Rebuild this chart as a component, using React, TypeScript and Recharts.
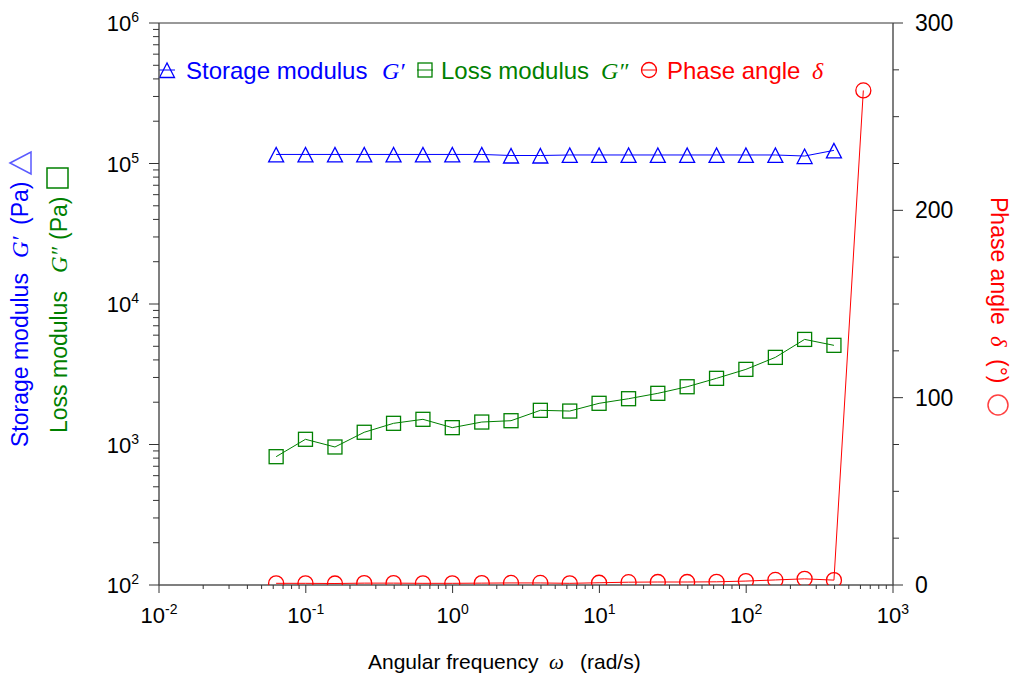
import React from 'react';
import { ComposedChart, Line, XAxis, YAxis, ReferenceLine, Customized } from 'recharts';

// Angular frequency (rad/s)
const frequency = [0.0628, 0.0995, 0.158, 0.25, 0.396, 0.628, 0.995, 1.58, 2.5, 3.96, 6.28, 9.95, 15.8, 25, 39.6, 62.8, 99.5, 158, 250, 396, 628];
// Storage modulus G' (Pa)
const storageModulus = [116000, 116000, 116000, 116000, 116000, 116000, 116000, 116000, 114000, 114000, 115000, 115000, 115000, 115000, 115000, 115000, 115000, 115000, 113000, 124000];
// Loss modulus G'' (Pa)
const lossModulus = [819, 1089, 960, 1222, 1415, 1511, 1318, 1445, 1477, 1751, 1730, 1964, 2118, 2313, 2577, 2958, 3426, 4170, 5598, 5079];
// Phase angle δ (°)
const phaseAngle = [0.9, 0.9, 0.8, 1.0, 1.0, 0.9, 0.9, 1.0, 1.1, 1.1, 0.9, 1.2, 1.5, 1.6, 1.6, 1.7, 2.1, 2.7, 3.3, 2.6, 264];

const xMajorTicks = [0.01, 0.1, 1, 10, 100, 1000];
const yLeftMajorTicks = [100, 1000, 10000, 100000, 1000000];
const yRightTicks = [0, 25, 50, 75, 100, 125, 150, 175, 200, 225, 250, 275, 300];
const yRightLabels = [0, 100, 200, 300];

const withMinor = (majors: number[]) => {
  const out: number[] = [];
  majors.forEach((d, i) => {
    out.push(d);
    if (i < majors.length - 1) for (let m = 2; m <= 9; m++) out.push(d * m);
  });
  return out;
};
const xTicks = withMinor(xMajorTicks);
const yLeftTicks = withMinor(yLeftMajorTicks);

const storageData = storageModulus.map((v, i) => ({ w: frequency[i], g1: v }));
const lossData = lossModulus.map((v, i) => ({ w: frequency[i], g2: v }));
const phaseData = phaseAngle.map((v, i) => ({ w: frequency[i], d: v }));

const SANS = 'Arial, "Liberation Sans", sans-serif';
const SERIF = '"Times New Roman", "Liberation Serif", serif';
const BLUE = '#0000ff';
const GREEN = '#008000';
const RED = '#ff0000';
const AXIS = '#555555';
const TICK = '#333333';

const isDecade = (v: number) => Math.abs(Math.log10(v) - Math.round(Math.log10(v))) < 1e-9;

const XTick = (props: any) => {
  const { x, y, payload } = props;
  const v = payload.value;
  const major = isDecade(v);
  return (
    <g>
      <line x1={x} y1={y} x2={x} y2={y + (major ? 8 : 4)} stroke={TICK} strokeWidth={1} />
      {major && (
        <text x={x} y={y + 38} textAnchor="middle" fontFamily={SANS} fontSize={22} fill="#000">
          10<tspan dy={-9} fontSize={14}>{String(Math.round(Math.log10(v)))}</tspan>
        </text>
      )}
    </g>
  );
};

const YLeftTick = (props: any) => {
  const { x, y, payload } = props;
  const v = payload.value;
  const major = isDecade(v);
  return (
    <g>
      <line x1={x} y1={y} x2={x - (major ? 10 : 6)} y2={y} stroke={TICK} strokeWidth={1} />
      {major && (
        <text x={x - 20} y={y + 8} textAnchor="end" fontFamily={SANS} fontSize={22} fill="#000">
          10<tspan dy={-9} fontSize={14}>{String(Math.round(Math.log10(v)))}</tspan>
        </text>
      )}
    </g>
  );
};

const YRightTick = (props: any) => {
  const { x, y, payload } = props;
  const v = payload.value;
  const major = yRightLabels.includes(v);
  return (
    <g>
      <line x1={x} y1={y} x2={x + (major ? 10 : 6)} y2={y} stroke={TICK} strokeWidth={1} />
      {major && (
        <text x={x + 22} y={y + 8} textAnchor="start" fontFamily={SANS} fontSize={23} fill="#000">
          {v}
        </text>
      )}
    </g>
  );
};

const triPoints = (cx: number, cy: number) => `${cx},${cy - 7} ${cx - 7.5},${cy + 7.5} ${cx + 7.5},${cy + 7.5}`;

const TriangleDot = (props: any) => {
  const { cx, cy, index } = props;
  if (cx == null || cy == null) return <g key={`t${index}`} />;
  return <polygon key={`t${index}`} points={triPoints(cx, cy)} fill="none" stroke={BLUE} strokeWidth={1.3} />;
};
const SquareDot = (props: any) => {
  const { cx, cy, index } = props;
  if (cx == null || cy == null) return <g key={`s${index}`} />;
  return <rect key={`s${index}`} x={cx - 7} y={cy - 7} width={14} height={14} fill="none" stroke={GREEN} strokeWidth={1.3} />;
};
const CircleDot = (props: any) => {
  const { cx, cy, index } = props;
  if (cx == null || cy == null) return <g key={`c${index}`} />;
  return <circle key={`c${index}`} cx={cx} cy={cy} r={7.5} fill="none" stroke={RED} strokeWidth={1.3} />;
};

const Annotations = () => (
  <g>
    {/* Legend */}
    <g fontFamily={SANS} fontSize={24}>
      <line x1={159} y1={70} x2={175} y2={70} stroke={BLUE} strokeWidth={1} />
      <polygon points={triPoints(167, 70)} fill="none" stroke={BLUE} strokeWidth={1.3} />
      <text x={186} y={79} fill={BLUE}>Storage modulus</text>
      <text x={382} y={79} fill={BLUE} fontFamily={SERIF} fontStyle="italic">G′</text>
      <line x1={417} y1={70} x2={433} y2={70} stroke={GREEN} strokeWidth={1} />
      <rect x={418} y={63} width={14} height={14} fill="none" stroke={GREEN} strokeWidth={1.3} />
      <text x={441} y={79} fill={GREEN}>Loss modulus</text>
      <text x={601} y={79} fill={GREEN} fontFamily={SERIF} fontStyle="italic">G″</text>
      <line x1={641} y1={70} x2={657} y2={70} stroke={RED} strokeWidth={1} />
      <circle cx={649} cy={70} r={7.5} fill="none" stroke={RED} strokeWidth={1.3} />
      <text x={667} y={79} fill={RED}>Phase angle</text>
      <text x={812} y={79} fill={RED} fontFamily={SERIF} fontStyle="italic">δ</text>
    </g>

    {/* Left axis titles */}
    <text transform="translate(28, 447) rotate(-90)" fontFamily={SANS} fontSize={23} fill={BLUE}>
      <tspan x={0}>Storage modulus</tspan>
      <tspan x={189} fontFamily={SERIF} fontStyle="italic">G′</tspan>
      <tspan x={222}>(Pa)</tspan>
    </text>
    <polygon points="10,163 31,152 31,174" fill="none" stroke="#5a5aff" strokeWidth={1.5} />
    <text transform="translate(67, 433) rotate(-90)" fontFamily={SANS} fontSize={23} fill={GREEN}>
      <tspan x={0}>Loss modulus</tspan>
      <tspan x={160} fontFamily={SERIF} fontStyle="italic">G″</tspan>
      <tspan x={193}>(Pa)</tspan>
    </text>
    <rect x={47} y={168} width={21} height={20} fill="none" stroke={GREEN} strokeWidth={1.5} />

    {/* Right axis title */}
    <text transform="translate(991, 197) rotate(90)" fontFamily={SANS} fontSize={23} fill={RED}>
      <tspan x={0}>Phase angle</tspan>
      <tspan x={139} fontFamily={SERIF} fontStyle="italic">δ</tspan>
      <tspan x={162}>(°)</tspan>
    </text>
    <circle cx={998} cy={405} r={10} fill="none" stroke="#ff4040" strokeWidth={1.5} />

    {/* X axis title */}
    <text y={669} fontFamily={SANS} fontSize={21} fill="#000">
      <tspan x={368}>Angular frequency</tspan>
      <tspan x={549} fontFamily={SERIF} fontStyle="italic">ω</tspan>
      <tspan x={580}>(rad/s)</tspan>
    </text>
  </g>
);

export default function App() {
  return (
    <div style={{ position: 'absolute', left: 0, top: 0, width: 1015, height: 677, background: '#fff' }}>
      <ComposedChart width={1015} height={677} margin={{ top: 23, right: 62, left: 99, bottom: 52 }}>
        <XAxis
          dataKey="w"
          type="number"
          scale="log"
          domain={[0.01, 1000]}
          allowDataOverflow
          ticks={xTicks}
          interval={0}
          tickLine={false}
          tickSize={0}
          tickMargin={0}
          tick={<XTick />}
          axisLine={{ stroke: AXIS, strokeWidth: 1.5 }}
          height={40}
        />
        <YAxis
          yAxisId="left"
          type="number"
          scale="log"
          domain={[100, 1000000]}
          allowDataOverflow
          ticks={yLeftTicks}
          interval={0}
          tickLine={false}
          tickSize={0}
          tickMargin={0}
          tick={<YLeftTick />}
          axisLine={{ stroke: AXIS, strokeWidth: 1.5 }}
          width={60}
        />
        <YAxis
          yAxisId="right"
          orientation="right"
          type="number"
          domain={[0, 300]}
          allowDataOverflow
          ticks={yRightTicks}
          interval={0}
          tickLine={false}
          tickSize={0}
          tickMargin={0}
          tick={<YRightTick />}
          axisLine={{ stroke: AXIS, strokeWidth: 1.5 }}
          width={60}
        />
        <ReferenceLine yAxisId="left" y={1000000} stroke={TICK} strokeWidth={1} />
        <Line yAxisId="left" data={storageData} dataKey="g1" stroke={BLUE} strokeWidth={1} dot={TriangleDot} activeDot={false} isAnimationActive={false} />
        <Line yAxisId="left" data={lossData} dataKey="g2" stroke={GREEN} strokeWidth={1} dot={SquareDot} activeDot={false} isAnimationActive={false} />
        <Line yAxisId="right" data={phaseData} dataKey="d" stroke={RED} strokeWidth={1} dot={CircleDot} activeDot={false} isAnimationActive={false} />
        <Customized component={Annotations} />
      </ComposedChart>
    </div>
  );
}
